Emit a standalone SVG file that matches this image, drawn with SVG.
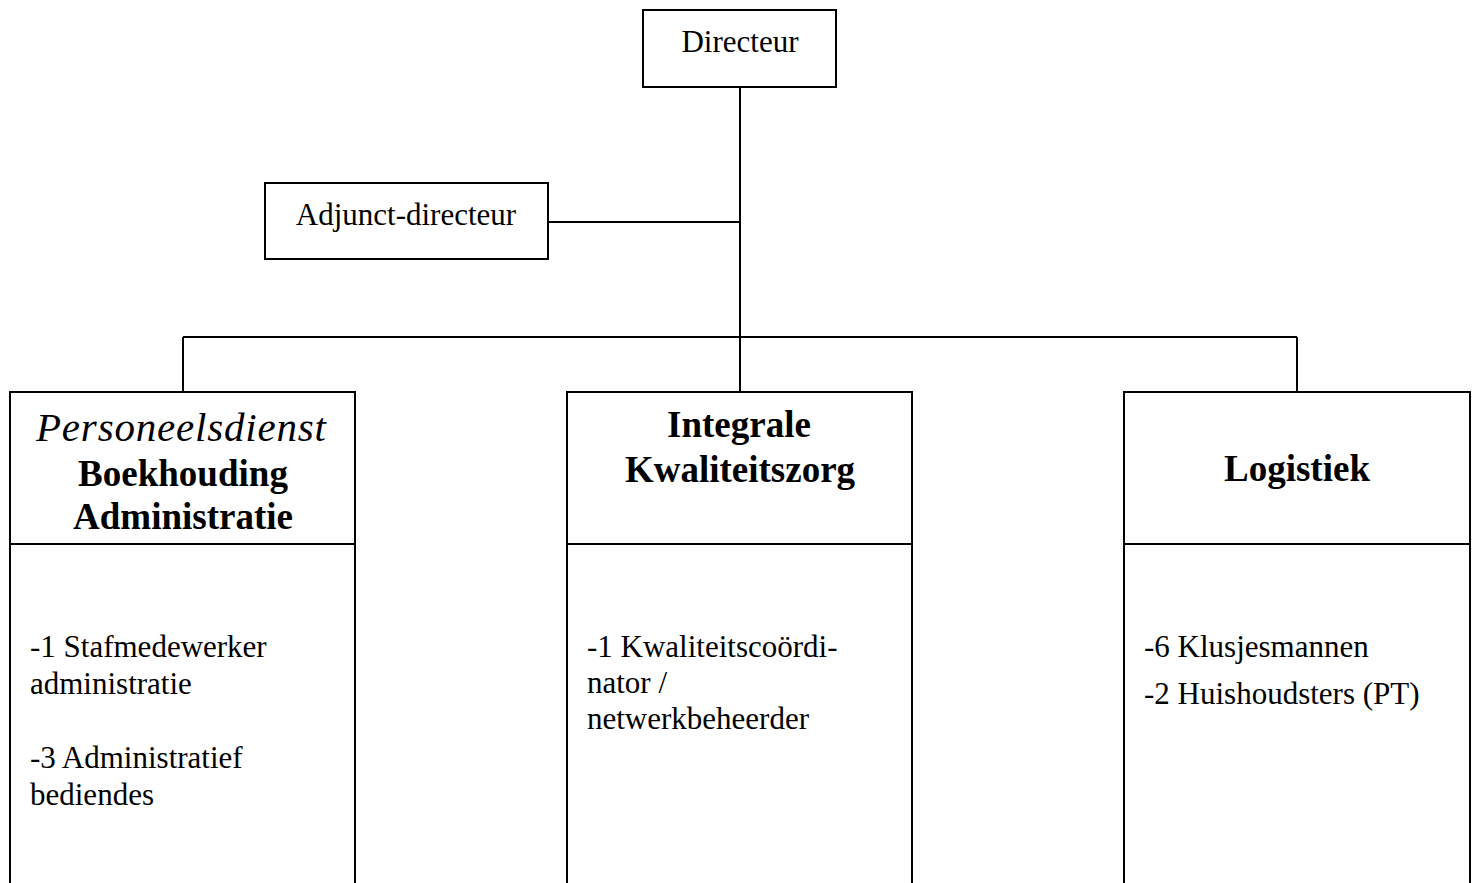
<svg xmlns="http://www.w3.org/2000/svg" width="1476" height="883" viewBox="0 0 1476 883">
<style>
.box{fill:#fff;stroke:#000;stroke-width:2}
.ln{stroke:#000;stroke-width:2;fill:none}
text{font-family:"Liberation Serif","Times New Roman",serif;fill:#000}
.r{font-size:31px}
.b{font-size:37px;font-weight:bold}
.i{font-size:41px;font-style:italic}
.c{text-anchor:middle}
</style>
<rect width="1476" height="883" fill="#fff"/>
<g id="connectors">
<line class="ln" x1="740" y1="87" x2="740" y2="392"/>
<line class="ln" x1="548" y1="222" x2="740" y2="222"/>
<line class="ln" x1="183" y1="337" x2="1297" y2="337"/>
<line class="ln" x1="183" y1="337" x2="183" y2="392"/>
<line class="ln" x1="1297" y1="337" x2="1297" y2="392"/>
</g>
<g id="directeur">
<rect class="box" x="643" y="10" width="193" height="77"/>
<text class="r c" x="740" y="52">Directeur</text>
</g>
<g id="adjunct">
<rect class="box" x="265" y="183" width="283" height="76"/>
<text class="r c" x="406" y="225">Adjunct-directeur</text>
</g>
<g id="personeelsdienst">
<rect class="box" x="10" y="392" width="345" height="520"/>
<line class="ln" x1="10" y1="544" x2="355" y2="544"/>
<text class="i c" x="181" y="441" textLength="290">Personeelsdienst</text>
<text class="b c" x="183" y="486">Boekhouding</text>
<text class="b c" x="183" y="529">Administratie</text>
<text class="r" x="30" y="657">-1 Stafmedewerker</text>
<text class="r" x="30" y="694">administratie</text>
<text class="r" x="30" y="768">-3 Administratief</text>
<text class="r" x="30" y="805">bediendes</text>
</g>
<g id="kwaliteitszorg">
<rect class="box" x="567" y="392" width="345" height="520"/>
<line class="ln" x1="567" y1="544" x2="912" y2="544"/>
<text class="b c" x="739" y="437">Integrale</text>
<text class="b c" x="740" y="482">Kwaliteitszorg</text>
<text class="r" x="587" y="657">-1 Kwaliteitscoördi-</text>
<text class="r" x="587" y="693">nator /</text>
<text class="r" x="587" y="729">netwerkbeheerder</text>
</g>
<g id="logistiek">
<rect class="box" x="1124" y="392" width="346" height="520"/>
<line class="ln" x1="1124" y1="544" x2="1470" y2="544"/>
<text class="b c" x="1297" y="481">Logistiek</text>
<text class="r" x="1144" y="657">-6 Klusjesmannen</text>
<text class="r" x="1144" y="704">-2 Huishoudsters (PT)</text>
</g>
</svg>
